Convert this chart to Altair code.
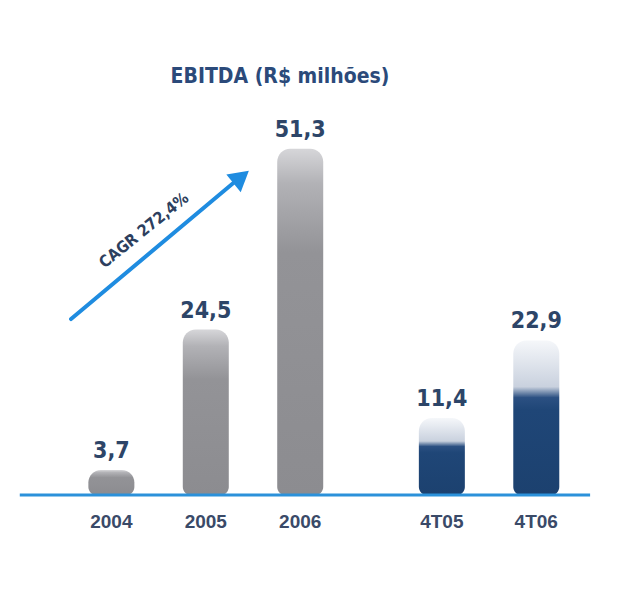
import altair as alt
import pandas as pd

# ---- data ----
categories = ["2004", "2005", "2006", "4T05", "4T06"]
values = [3.7, 24.5, 51.3, 11.4, 22.9]
groups = ["ano", "ano", "ano", "tri", "tri"]
title_text = "EBITDA (R$ milhões)"
cagr_label = "CAGR 272,4%"

# slot index along x, with an extra half-slot gap before the quarterly group
slots = []
for i, g in enumerate(groups):
    slots.append(i + (0.5 if g == "tri" else 0.0))

df = pd.DataFrame({
    "cat": categories,
    "val": values,
    "zero": [0.0] * len(values),
    "grp": groups,
    "slot": slots,
    "lbl": [f"{v:.1f}".replace(".", ",") for v in values],
})

xs = alt.Scale(domain=[-1.0417, 5.3125], nice=False, zero=False)
ys = alt.Scale(domain=[-9.78, 58.37], nice=False, zero=False)


def X(f="slot"):
    return alt.X(f"{f}:Q", scale=xs, axis=None)


def Y(f="val"):
    return alt.Y(f"{f}:Q", scale=ys, axis=None)


gray = alt.Gradient(
    gradient="linear", x1=0, y1=0, x2=0, y2=1,
    stops=[
        alt.GradientStop(color="#d6d6d9", offset=0),
        alt.GradientStop(color="#b2b2b6", offset=0.1),
        alt.GradientStop(color="#939397", offset=0.3),
        alt.GradientStop(color="#8c8c90", offset=1),
    ],
)
navy = alt.Gradient(
    gradient="linear", x1=0, y1=0, x2=0, y2=1,
    stops=[
        alt.GradientStop(color="#f5f7fa", offset=0),
        alt.GradientStop(color="#c9d1de", offset=0.3),
        alt.GradientStop(color="#2b5082", offset=0.37),
        alt.GradientStop(color="#1f4677", offset=0.45),
        alt.GradientStop(color="#1c416f", offset=1),
    ],
)

base = alt.Chart(df)
bar_kw = dict(size=46, cornerRadiusTopLeft=13, cornerRadiusTopRight=13,
              cornerRadiusBottomLeft=8, cornerRadiusBottomRight=8)

bars_a = base.transform_filter(alt.datum.grp == "ano").mark_bar(color=gray, **bar_kw).encode(
    x=X(), y=Y(), y2="zero:Q")
bars_t = base.transform_filter(alt.datum.grp == "tri").mark_bar(color=navy, **bar_kw).encode(
    x=X(), y=Y(), y2="zero:Q")

cond_font = "DejaVu Sans Condensed, Liberation Sans Narrow, Roboto, sans-serif"

val_text = base.mark_text(font=cond_font, fontWeight="bold", fontSize=23, color="#2d4568",
                          baseline="bottom", dy=-7).encode(x=X(), y=Y(), text="lbl:N")

cat_text = base.mark_text(font="Liberation Sans, Arial, sans-serif", fontWeight="bold", fontSize=19,
                          color="#3a4a68", baseline="middle", dy=27).encode(
    x=X(), y=Y("zero"), text="cat:N")

# baseline span (in slot units)
line_df = pd.DataFrame({"x": [-0.97], "x2": [5.07], "y": [0.0]})
baseline = alt.Chart(line_df).mark_rule(color="#2b91da", strokeWidth=3).encode(
    x=X("x"), x2="x2:Q", y=Y("y"))

# CAGR arrow annotation
arrow_df = pd.DataFrame({"x": [-0.427], "x2": [1.333], "y": [26.07], "y2": [46.7]})
arrow = alt.Chart(arrow_df).mark_rule(color="#1f8ce0", strokeWidth=4, strokeCap="round").encode(
    x=X("x"), x2="x2:Q", y=Y("y"), y2="y2:Q")
head_df = pd.DataFrame({"x": [1.375], "y": [47.1]})
head = alt.Chart(head_df).mark_point(
    shape="triangle-up", filled=True, opacity=1, color="#1f8ce0", size=520, angle=51).encode(
    x=X("x"), y=Y("y"))
cagr_df = pd.DataFrame({"x": [0.345], "y": [39.2], "t": [cagr_label]})
cagr = alt.Chart(cagr_df).mark_text(
    font=cond_font, fontWeight="bold", fontSize=16, color="#2d3f5e", angle=321).encode(
    x=X("x"), y=Y("y"), text="t:N")

chart = alt.layer(bars_a, bars_t, baseline, val_text, cat_text, arrow, head, cagr).properties(
    width=610, height=460,
    padding={"left": 0, "top": 58, "right": 0, "bottom": 0},
    title=alt.TitleParams(title_text, font=cond_font, fontWeight="bold", fontSize=21,
                          color="#2b4a7a", anchor="middle", dx=-33, offset=14),
).configure_view(stroke=None)

chart.save("out.html", embed_options={"renderer": "svg", "actions": False})
